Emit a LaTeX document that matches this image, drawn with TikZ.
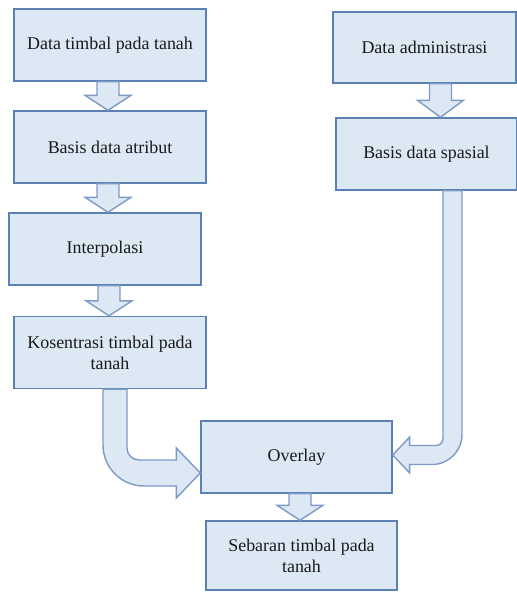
\documentclass[tikz,border=0pt]{standalone}
\usepackage{fontspec}
\setmainfont{Liberation Serif}
\usetikzlibrary{calc}
\definecolor{boxfill}{HTML}{DDE8F5}
\definecolor{boxline}{HTML}{5A80B4}
\definecolor{arrowline}{HTML}{7D9BC4}
\tikzset{
  flowbox/.style={draw=boxline, fill=boxfill, line width=0.8pt, minimum width=3.84cm, minimum height=1.44cm, inner sep=2pt, align=center, text=black!90, font=\fontsize{10.2}{12}\selectfont},
  blockarrow/.style={draw=arrowline, fill=boxfill, line width=0.8pt, line join=miter},
}
\begin{document}
\begin{tikzpicture}[x=0.02cm, y=-0.02cm]
\useasboundingbox (0,0) rectangle (517,592);

% left column
\node[flowbox] (b1) at (110,45) {Data timbal pada tanah};
\node[flowbox] (b2) at (110,147) {Basis data atribut};
\node[flowbox] (b3) at (105,249) {Interpolasi};
\node[flowbox] (b4) at (110,352.5) {Kosentrasi timbal pada\\tanah};
% right column
\node[flowbox, minimum width=3.66cm, minimum height=1.42cm] (r1) at (424.5,47.5) {Data administrasi};
\node[flowbox, minimum width=3.62cm] (r2) at (426.5,154) {Basis data spasial};
% bottom
\node[flowbox, minimum width=3.82cm] (ov) at (296.5,457) {Overlay};
\node[flowbox, minimum width=3.82cm, minimum height=1.38cm] (sb) at (301.5,555.5) {Sebaran timbal pada\\tanah};

% straight block arrows
\draw[blockarrow] ($(b1.south)+(-13,0)$) -- ($(b2.north)+(-13,-15)$) -- ($(b2.north)+(-25,-15)$) -- ($(b2.north)+(-2,0)$) -- ($(b2.north)+(21,-15)$) -- ($(b2.north)+(9,-15)$) -- ($(b1.south)+(9,0)$) -- cycle;
\draw[blockarrow] ($(b2.south)+(-13,0)$) -- ($(b3.north)+(-8,-15)$) -- ($(b3.north)+(-20,-15)$) -- ($(b3.north)+(3,0)$) -- ($(b3.north)+(26,-15)$) -- ($(b3.north)+(14,-15)$) -- ($(b2.south)+(9,0)$) -- cycle;
\draw[blockarrow] ($(b3.south)+(-7,0)$) -- ($(b4.north)+(-12,-15)$) -- ($(b4.north)+(-24,-15)$) -- ($(b4.north)+(-1,0)$) -- ($(b4.north)+(22,-15)$) -- ($(b4.north)+(10,-15)$) -- ($(b3.south)+(15,0)$) -- cycle;
\draw[blockarrow] ($(r1.south)+(5,0)$) -- ($(r2.north)+(3,-17)$) -- ($(r2.north)+(-9,-17)$) -- ($(r2.north)+(14,0)$) -- ($(r2.north)+(37,-17)$) -- ($(r2.north)+(25,-17)$) -- ($(r1.south)+(27,0)$) -- cycle;
\draw[blockarrow] ($(ov.south)+(-7.5,0)$) -- ($(sb.north)+(-12.5,-15)$) -- ($(sb.north)+(-24.5,-15)$) -- ($(sb.north)+(-1.5,0)$) -- ($(sb.north)+(21.5,-15)$) -- ($(sb.north)+(9.5,-15)$) -- ($(ov.south)+(14.5,0)$) -- cycle;

% bent block arrows into Overlay
\coordinate (lt) at ($(b4.south)+(5,0)$);
\coordinate (lh) at ($(ov.west)+(0,16)$);
\coordinate (lc) at (lt |- lh);
\draw[blockarrow] ($(lt)+(-12,0)$) -- ($(lc)+(-12,-28)$) .. controls ($(lc)+(-12,-5.4)$) and ($(lc)+(6.4,13)$) .. ($(lc)+(29,13)$) -- ($(lh)+(-24,13)$) -- ($(lh)+(-24,25)$) -- (lh) -- ($(lh)+(-24,-25)$) -- ($(lh)+(-24,-13)$) -- ($(lc)+(24,-13)$) .. controls ($(lc)+(17.4,-13)$) and ($(lc)+(12,-18.4)$) .. ($(lc)+(12,-25)$) -- ($(lt)+(12,0)$) -- cycle;
\coordinate (rt) at ($(r2.south)+(26,0)$);
\coordinate (rh) at ($(ov.east)+(0,-2)$);
\coordinate (rc) at (rt |- rh);
\draw[blockarrow] ($(rt)+(-9.5,0)$) -- ($(rc)+(-9.5,-16.5)$) .. controls ($(rc)+(-9.5,-12.6)$) and ($(rc)+(-12.6,-9.5)$) .. ($(rc)+(-16.5,-9.5)$) -- ($(rh)+(17,-9.5)$) -- ($(rh)+(17,-18)$) -- (rh) -- ($(rh)+(17,18)$) -- ($(rh)+(17,9.5)$) -- ($(rc)+(-20.5,9.5)$) .. controls ($(rc)+(-3.9,9.5)$) and ($(rc)+(9.5,-3.9)$) .. ($(rc)+(9.5,-20.5)$) -- ($(rt)+(9.5,0)$) -- cycle;
\end{tikzpicture}
\end{document}
